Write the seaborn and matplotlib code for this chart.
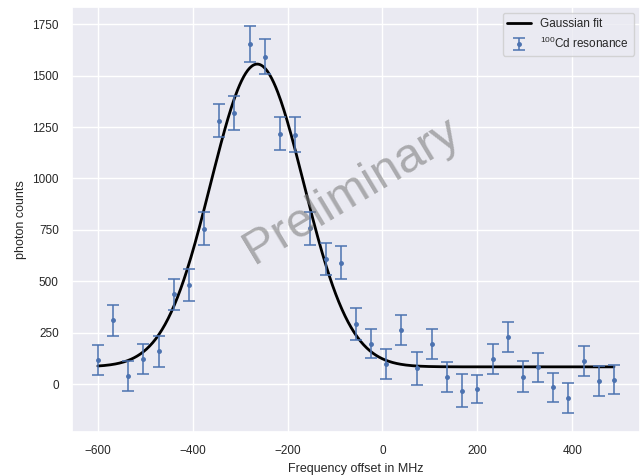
import numpy as np
import matplotlib
matplotlib.use("Agg")
import matplotlib.pyplot as plt
import seaborn as sns

freq = [-600, -568, -536, -504, -472, -440, -408, -376, -344, -312, -280, -248,
        -216, -184, -152, -120, -88, -56, -24, 8, 40, 72, 104, 136, 168, 200,
        232, 264, 296, 328, 360, 392, 424, 456, 488]
counts = [115, 310, 40, 123, 160, 436, 481, 755, 1280, 1317, 1653, 1592,
          1217, 1212, 758, 607, 591, 292, 197, 98, 263, 76, 195, 36, -31, -24,
          121, 231, 36, 81, -16, -68, 113, 15, 21]
errors = [73, 76, 73, 74, 76, 77, 78, 80, 80, 82, 86, 86,
          81, 85, 80, 77, 82, 78, 72, 73, 73, 82, 75, 72, 78, 70,
          72, 73, 75, 72, 71, 72, 72, 74, 71]

# Gaussian fit parameters (amplitude, centre, sigma, offset)
fit_amp = 1472
fit_center = -264
fit_sigma = 98
fit_offset = 84

sns.set_theme(style="darkgrid")
plt.rcParams["font.family"] = ["Liberation Sans", "DejaVu Sans"]
plt.rcParams["mathtext.fontset"] = "custom"
plt.rcParams["mathtext.rm"] = "Liberation Sans"

fig, ax = plt.subplots(figsize=(6.43, 4.75), dpi=100)
fig.subplots_adjust(left=0.112, right=0.995, top=0.985, bottom=0.09)

xf = np.linspace(min(freq), max(freq), 500)
yf = fit_amp * np.exp(-(xf - fit_center) ** 2 / (2 * fit_sigma ** 2)) + fit_offset
sns.lineplot(x=xf, y=yf, color="black", linewidth=2.0, ax=ax, label="Gaussian fit")

ax.errorbar(freq, counts, yerr=errors, fmt=".", color="#4c72b0", capsize=4.5,
            elinewidth=1.1, capthick=1.1, markersize=5, label=r"$^{100}$Cd resonance")

ax.text(0.493, 0.567, "Preliminary", transform=ax.transAxes, fontsize=35,
        color="gray", alpha=0.6, rotation=31, ha="center", va="center")

ax.set_xlabel("Frequency offset in MHz", fontsize=9)
ax.set_ylabel("photon counts", fontsize=9)
ax.tick_params(labelsize=8.5)
ax.legend(loc="upper right", fontsize=8.5)

fig.savefig("out.png", dpi=100)
